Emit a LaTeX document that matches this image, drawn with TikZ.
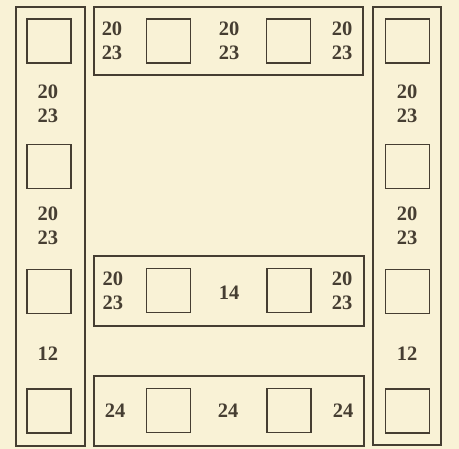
\documentclass[tikz,border=0pt]{standalone}
\usepackage{fontspec}
\setmainfont{Liberation Serif}
\definecolor{paper}{HTML}{F9F2D6}
\definecolor{ink}{HTML}{463E32}
\begin{document}
\begin{tikzpicture}[x=1pt,y=-1pt,
  grp/.style={draw=ink,line width=1.8pt,rectangle,inner sep=0pt},
  sq/.style={draw=ink,line width=1.8pt,rectangle,inner sep=0pt,minimum width=44pt,minimum height=44pt},
  lbl/.style={text=ink,font=\fontsize{20.5}{24.5}\selectfont\bfseries,align=center,inner sep=0pt}]
\fill[paper] (0,0) rectangle (459,449);
\useasboundingbox (0,0) rectangle (459,449);
% group boxes
\node[grp,minimum width=69pt,minimum height=439pt] (lcol) at (50.5,226.5) {};
\node[grp,minimum width=68pt,minimum height=438pt] (rcol) at (407,226) {};
\node[grp,minimum width=269pt,minimum height=68pt] (top) at (228.5,41) {};
\node[grp,minimum width=270pt,minimum height=70pt] (mid) at (229,291) {};
\node[grp,minimum width=270pt,minimum height=70pt] (bot) at (229,411) {};
% left column squares
\node[sq] (l1) at (49,41) {};
\node[sq] (l2) at (49,166.5) {};
\node[sq] (l3) at (49,291.5) {};
\node[sq] (l4) at (49,411) {};
% right column squares
\node[sq] (r1) at (407.5,41) {};
\node[sq] (r2) at (407.5,166.5) {};
\node[sq] (r3) at (407.5,291.5) {};
\node[sq] (r4) at (407.5,411) {};
% top box squares
\node[sq] (t1) at (168.5,41) {};
\node[sq] (t2) at (288.5,41) {};
% middle box squares
\node[sq] (m1) at (168.5,290.5) {};
\node[sq] (m2) at (289,290.5) {};
% bottom box squares
\node[sq] (b1) at (168.5,410.5) {};
\node[sq] (b2) at (289,410.5) {};
% labels
\node[lbl] (la) at (48,104) {20\\23};
\node[lbl] (lb) at (48,226) {20\\23};
\node[lbl] (lc) at (48,354) {12};
\node[lbl] (ra) at (407,104) {20\\23};
\node[lbl] (rb) at (407,226) {20\\23};
\node[lbl] (rc) at (407,354) {12};
\node[lbl] (ta) at (112,41) {20\\23};
\node[lbl] (tb) at (229,41) {20\\23};
\node[lbl] (tc) at (342,41) {20\\23};
\node[lbl] (ma) at (113,291) {20\\23};
\node[lbl] (mb) at (229,293) {14};
\node[lbl] (mc) at (342,291) {20\\23};
\node[lbl] (ba) at (115,411) {24};
\node[lbl] (bb) at (228,411) {24};
\node[lbl] (bc) at (343,411) {24};
\end{tikzpicture}
\end{document}
